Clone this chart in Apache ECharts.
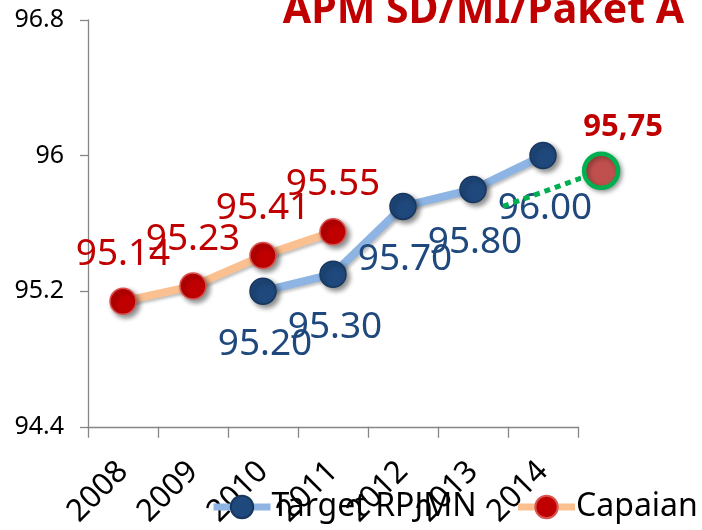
<!DOCTYPE html>
<html>
<head>
<meta charset="utf-8">
<script src="https://cdn.jsdelivr.net/npm/echarts@6/dist/echarts.min.js"></script>
<style>
html,body{margin:0;padding:0;background:#fff;}
#c{width:702px;height:530px;}
</style>
</head>
<body>
<div id="c"></div>
<script>
var years = ['2008','2009','2010','2011','2012','2013','2014'];
var targetRPJMN = [null, null, 95.20, 95.30, 95.70, 95.80, 96.00];
var capaian = [95.14, 95.23, 95.41, 95.55, null, null, null];
// projection (green dotted) drawn on a hidden value x axis: [x position, y]
var projX = [5.93, 7.33];
var projY = [95.70, 95.91];
var projLabel = '95,75';
var titleText = 'APM SD/MI/Paket A';

var FONT = '"Noto Sans", "Open Sans", sans-serif';
var chart = echarts.init(document.getElementById('c'), null, {renderer: 'canvas'});
var projData = projX.map(function (x, i) { return [x, projY[i]]; });

chart.setOption({
  animation: false,
  backgroundColor: '#ffffff',
  textStyle: {fontFamily: FONT},
  graphic: [{
    type: 'text',
    right: 18,
    top: -9,
    style: {
      text: titleText,
      font: 'bold 41px ' + FONT,
      fill: '#C00000'
    }
  }],
  grid: {left: 88, right: 124, top: 20, bottom: 101},
  legend: {
    data: ['Target RPJMN', 'Capaian'],
    left: 210,
    top: 491,
    width: 492,
    padding: 0,
    itemWidth: 57,
    itemHeight: 28,
    itemGap: 38,
    lineStyle: {width: 7},
    textStyle: {fontSize: 32, color: '#000', fontFamily: FONT, padding: [0, 0, 0, -4]}
  },
  xAxis: [{
    type: 'category',
    data: years,
    boundaryGap: true,
    axisLine: {lineStyle: {color: '#868686', width: 1.3}},
    axisTick: {show: true, length: 11, lineStyle: {color: '#868686', width: 1.3}},
    axisLabel: {rotate: 45, fontSize: 31, color: '#000', margin: 40, fontFamily: FONT, interval: 0}
  }, {
    type: 'value',
    min: 0,
    max: 7,
    show: false
  }],
  yAxis: {
    type: 'value',
    min: 94.4,
    max: 96.8,
    interval: 0.8,
    splitLine: {show: false},
    axisLine: {show: true, lineStyle: {color: '#868686', width: 1.3}},
    axisTick: {show: true, length: 8, lineStyle: {color: '#868686', width: 1.3}},
    axisLabel: {
      fontSize: 25, color: '#000', margin: 24, fontFamily: FONT,
      formatter: function (v) { return String(Math.round(v * 10) / 10); }
    }
  },
  series: [{
    name: 'Target RPJMN',
    type: 'line',
    data: targetRPJMN,
    symbol: 'circle',
    symbolSize: 26,
    lineStyle: {color: '#8DB4E2', width: 8, shadowColor: 'rgba(0,0,0,0.25)', shadowBlur: 3, shadowOffsetX: 2, shadowOffsetY: 2},
    itemStyle: {color: '#1F497D', borderColor: '#17375E', borderWidth: 1.5, shadowColor: 'rgba(0,0,0,0.45)', shadowBlur: 5, shadowOffsetX: 3, shadowOffsetY: 3},
    label: {
      show: true, position: 'inside', offset: [2, 53],
      fontSize: 37, color: '#1F497D', fontFamily: FONT,
      formatter: function (p) { return p.value.toFixed(2); }
    },
    z: 3
  }, {
    name: 'Capaian',
    type: 'line',
    data: capaian,
    symbol: 'circle',
    symbolSize: 26,
    lineStyle: {color: '#FAC090', width: 8, shadowColor: 'rgba(0,0,0,0.25)', shadowBlur: 3, shadowOffsetX: 2, shadowOffsetY: 2},
    itemStyle: {color: '#C00000', borderColor: '#D9534F', borderWidth: 1.5, shadowColor: 'rgba(0,0,0,0.45)', shadowBlur: 5, shadowOffsetX: 3, shadowOffsetY: 3},
    label: {
      show: true, position: 'inside', offset: [0, -47],
      fontSize: 37, color: '#C00000', fontFamily: FONT,
      formatter: function (p) { return p.value.toFixed(2); }
    },
    z: 4
  }, {
    name: 'Proyeksi',
    type: 'line',
    xAxisIndex: 1,
    data: projData,
    clip: false,
    symbol: 'circle',
    symbolSize: function (v, p) { return p.dataIndex === projData.length - 1 ? 34 : 0; },
    lineStyle: {color: '#00B050', width: 5, type: [6, 5]},
    itemStyle: {color: '#C0504D', borderColor: '#00B050', borderWidth: 4.5, shadowColor: 'rgba(0,0,0,0.35)', shadowBlur: 5, shadowOffsetX: 2, shadowOffsetY: 2},
    label: {
      show: true, position: 'inside', offset: [22, -44],
      fontSize: 31, fontWeight: 'bold', color: '#C00000', fontFamily: FONT,
      formatter: function (p) { return p.dataIndex === projData.length - 1 ? projLabel : ''; }
    },
    z: 5
  }]
});
</script>
</body>
</html>
